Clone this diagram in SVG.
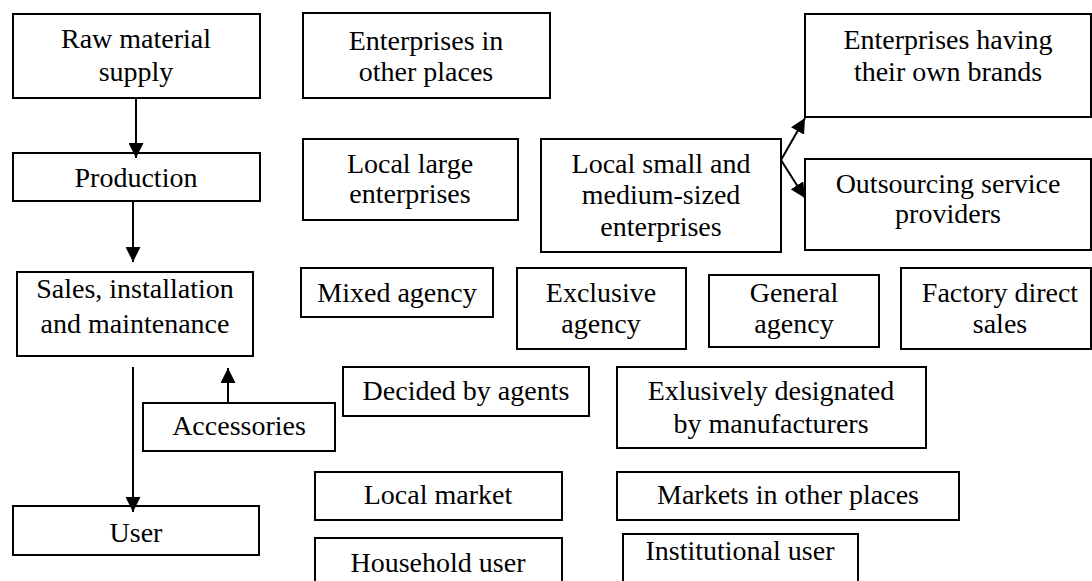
<svg xmlns="http://www.w3.org/2000/svg" width="1092" height="581" viewBox="0 0 1092 581">
  <style>
    .box { fill: #ffffff; stroke: #000000; stroke-width: 2; }
    .lbl { font-family: "Liberation Serif", "Times New Roman", serif; font-size: 28px; fill: #000000; text-anchor: middle; }
    .link { stroke: #000000; stroke-width: 2; fill: none; marker-end: url(#arrow); }
  </style>
  <defs>
    <marker id="arrow" markerUnits="userSpaceOnUse" markerWidth="15" markerHeight="15" refX="15" refY="7.5" orient="auto">
      <path d="M0,0 L15,7.5 L0,15 z" fill="#000000"/>
    </marker>
  </defs>
  <rect width="1092" height="581" fill="#ffffff"/>

  <!-- main chain on the left -->
  <g id="raw-material">
    <rect class="box" x="13" y="14" width="247" height="84"/>
    <text class="lbl" x="136" y="48">Raw material</text>
    <text class="lbl" x="136" y="81">supply</text>
  </g>
  <g id="production">
    <rect class="box" x="13" y="153" width="247" height="48"/>
    <text class="lbl" x="136" y="187">Production</text>
  </g>
  <g id="sales">
    <rect class="box" x="17" y="272" width="236" height="84"/>
    <text class="lbl" x="135" y="298">Sales, installation</text>
    <text class="lbl" x="135" y="333">and maintenance</text>
  </g>
  <g id="accessories">
    <rect class="box" x="143" y="403" width="192" height="48"/>
    <text class="lbl" x="239" y="435">Accessories</text>
  </g>
  <g id="user">
    <rect class="box" x="13" y="506" width="246" height="49"/>
    <text class="lbl" x="136" y="542">User</text>
  </g>

  <!-- raw material / production level -->
  <g id="other-enterprises">
    <rect class="box" x="303" y="13" width="247" height="85"/>
    <text class="lbl" x="426" y="50">Enterprises in</text>
    <text class="lbl" x="426" y="81">other places</text>
  </g>
  <g id="local-large">
    <rect class="box" x="303" y="139" width="215" height="81"/>
    <text class="lbl" x="410" y="173">Local large</text>
    <text class="lbl" x="410" y="203">enterprises</text>
  </g>
  <g id="local-sme">
    <rect class="box" x="541" y="139" width="240" height="113"/>
    <text class="lbl" x="661" y="173">Local small and</text>
    <text class="lbl" x="661" y="204">medium-sized</text>
    <text class="lbl" x="661" y="236">enterprises</text>
  </g>
  <g id="own-brands">
    <rect class="box" x="805" y="14" width="286" height="103"/>
    <text class="lbl" x="948" y="49">Enterprises having</text>
    <text class="lbl" x="948" y="81">their own brands</text>
  </g>
  <g id="outsourcing">
    <rect class="box" x="805" y="159" width="286" height="91"/>
    <text class="lbl" x="948" y="193">Outsourcing service</text>
    <text class="lbl" x="948" y="223">providers</text>
  </g>

  <!-- sales level -->
  <g id="mixed-agency">
    <rect class="box" x="301" y="268" width="192" height="49"/>
    <text class="lbl" x="397" y="302">Mixed agency</text>
  </g>
  <g id="exclusive-agency">
    <rect class="box" x="517" y="268" width="169" height="81"/>
    <text class="lbl" x="601" y="302">Exclusive</text>
    <text class="lbl" x="601" y="333">agency</text>
  </g>
  <g id="general-agency">
    <rect class="box" x="709" y="275" width="170" height="72"/>
    <text class="lbl" x="794" y="302">General</text>
    <text class="lbl" x="794" y="333">agency</text>
  </g>
  <g id="factory-direct">
    <rect class="box" x="901" y="268" width="190" height="81"/>
    <text class="lbl" x="1000" y="302">Factory direct</text>
    <text class="lbl" x="1000" y="333">sales</text>
  </g>
  <g id="decided-by-agents">
    <rect class="box" x="343" y="367" width="246" height="49"/>
    <text class="lbl" x="466" y="400">Decided by agents</text>
  </g>
  <g id="designated-by-manufacturers">
    <rect class="box" x="617" y="367" width="309" height="81"/>
    <text class="lbl" x="771" y="400">Exlusively designated</text>
    <text class="lbl" x="771" y="433">by manufacturers</text>
  </g>

  <!-- user level -->
  <g id="local-market">
    <rect class="box" x="315" y="472" width="247" height="48"/>
    <text class="lbl" x="438" y="504">Local market</text>
  </g>
  <g id="other-markets">
    <rect class="box" x="617" y="472" width="342" height="48"/>
    <text class="lbl" x="788" y="504">Markets in other places</text>
  </g>
  <g id="household-user">
    <rect class="box" x="315" y="538" width="247" height="60"/>
    <text class="lbl" x="438" y="572">Household user</text>
  </g>
  <g id="institutional-user">
    <rect class="box" x="623" y="534" width="235" height="64"/>
    <text class="lbl" x="740" y="560">Institutional user</text>
  </g>

  <!-- connectors -->
  <g id="connectors">
    <line class="link" x1="136" y1="98" x2="136" y2="158"/>
    <line class="link" x1="133" y1="201" x2="133" y2="262"/>
    <line class="link" x1="133" y1="367" x2="133" y2="512"/>
    <line class="link" x1="228" y1="403" x2="228" y2="368"/>
    <line class="link" x1="781" y1="160" x2="805" y2="118"/>
    <line class="link" x1="781" y1="160" x2="805" y2="198"/>
  </g>
</svg>
